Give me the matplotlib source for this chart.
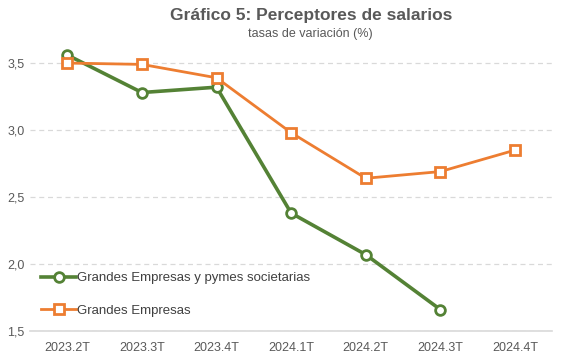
import matplotlib
matplotlib.use("Agg")
import matplotlib.pyplot as plt
from matplotlib.ticker import FuncFormatter

categories = ["2023.2T", "2023.3T", "2023.4T", "2024.1T", "2024.2T", "2024.3T", "2024.4T"]
grandes_pymes = [3.56, 3.28, 3.32, 2.38, 2.07, 1.66, None]
grandes = [3.50, 3.49, 3.39, 2.98, 2.64, 2.69, 2.85]
yticks = [1.5, 2.0, 2.5, 3.0, 3.5]

plt.rcParams['font.family'] = ['Liberation Sans', 'DejaVu Sans']

fig = plt.figure(figsize=(5.67, 3.53), dpi=100)
ax = fig.add_axes([0.053, 0.0623, 0.921, 0.816])

x = list(range(len(categories)))
green = "#548235"
orange = "#ED7D31"

gx = [i for i, v in zip(x, grandes_pymes) if v is not None]
gy = [v for v in grandes_pymes if v is not None]
ax.plot(gx, gy, color=green, lw=2.6, marker="o", ms=7, mfc="white", mec=green, mew=2,
        label="Grandes Empresas y pymes societarias", zorder=3)
ax.plot(x, grandes, color=orange, lw=2.0, marker="s", ms=7, mfc="white", mec=orange, mew=2,
        label="Grandes Empresas", zorder=3)

ax.set_xlim(-0.5, len(categories) - 0.5)
ax.set_ylim(1.5, 3.65)
ax.set_yticks(yticks)
ax.yaxis.set_major_formatter(FuncFormatter(lambda v, p: f"{v:.1f}".replace(".", ",")))
ax.set_xticks(x)
ax.set_xticklabels(categories)

for s in ["top", "right", "left"]:
    ax.spines[s].set_visible(False)
ax.spines["bottom"].set_color("#D9D9D9")
ax.spines["bottom"].set_linewidth(1.2)
ax.grid(axis="y", color="#D9D9D9", ls=(0, (4, 3)), lw=0.9)
ax.set_axisbelow(True)
ax.tick_params(axis="both", length=0, colors="#595959", labelsize=9)
ax.tick_params(axis="x", pad=8)
ax.tick_params(axis="y", pad=4)

leg = ax.legend(loc="lower left", bbox_to_anchor=(0.004, 0.017), frameon=False, fontsize=9.5,
                labelcolor="#404040", handlelength=2.6, handletextpad=0.1, labelspacing=1.55,
                borderaxespad=0.3)

fig.text(0.548, 0.955, "Gráfico 5: Perceptores de salarios", ha="center", va="center",
         fontsize=12.5, fontweight="bold", color="#595959")
fig.text(0.548, 0.905, "tasas de variación (%)", ha="center", va="center",
         fontsize=9, color="#595959")

fig.savefig("out.png", dpi=100)
